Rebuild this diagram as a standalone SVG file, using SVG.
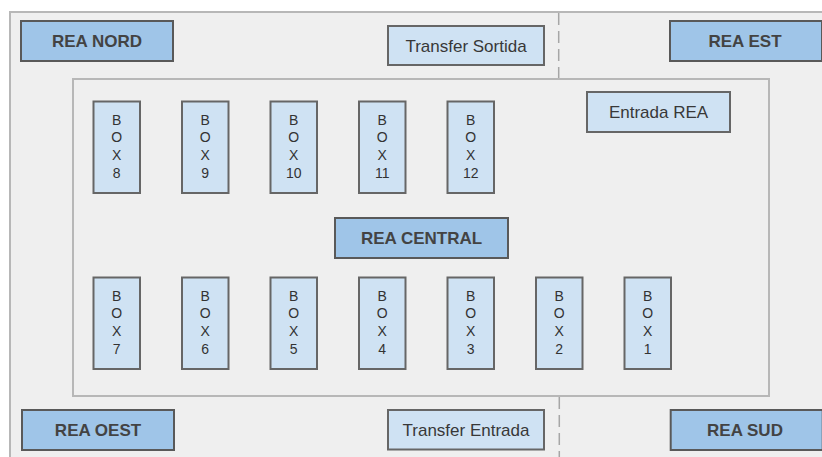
<svg xmlns="http://www.w3.org/2000/svg" width="822" height="457" viewBox="0 0 822 457">
  <style>
    .frame { fill: #efefef; stroke: #b7b7b7; stroke-width: 2; }
    .hall { fill: none; stroke: #b7b7b7; stroke-width: 2; }
    .divider { fill: none; stroke: #a6a6a6; stroke-width: 1.5; stroke-dasharray: 12 6; }
    .zone { fill: #9fc5e8; stroke: #595959; stroke-width: 2; }
    .room { fill: #cfe2f3; stroke: #666666; stroke-width: 2; }
    .zone-label { font-family: "Liberation Sans", Arial, sans-serif; font-size: 17px; font-weight: bold; fill: #434343; text-anchor: middle; }
    .room-label { font-family: "Liberation Sans", Arial, sans-serif; font-size: 17px; fill: #383838; text-anchor: middle; }
    .box-label { font-family: "Liberation Sans", Arial, sans-serif; font-size: 14px; fill: #333333; text-anchor: middle; }
  </style>

  <rect x="0" y="0" width="822" height="457" fill="#ffffff"/>
  <!-- outer floor area, running off the right and bottom edges -->
  <rect class="frame" x="10" y="12" width="830" height="460"/>
  <!-- central hall -->
  <rect class="hall" x="73" y="79" width="696" height="317"/>

  <g id="connectors">
    <line class="divider" x1="558.7" y1="13" x2="558.7" y2="78"/>
    <line class="divider" x1="559.3" y1="397" x2="559.3" y2="457"/>
  </g>

  <g id="rea-nord">
    <rect class="zone" x="21" y="21" width="152" height="40"/>
    <text class="zone-label" x="97" y="47">REA NORD</text>
  </g>
  <g id="transfer-sortida">
    <rect class="room" x="388" y="26" width="156" height="39"/>
    <text class="room-label" x="466" y="51.5">Transfer Sortida</text>
  </g>
  <g id="rea-est">
    <rect class="zone" x="670" y="21" width="152" height="40"/>
    <text class="zone-label" x="745" y="47">REA EST</text>
  </g>
  <g id="entrada-rea">
    <rect class="room" x="587" y="92" width="143" height="40"/>
    <text class="room-label" x="658.5" y="118">Entrada REA</text>
  </g>
  <g id="rea-central">
    <rect class="zone" x="335" y="218" width="173" height="40"/>
    <text class="zone-label" x="421.5" y="244">REA CENTRAL</text>
  </g>
  <g id="rea-oest">
    <rect class="zone" x="22" y="410" width="152" height="40"/>
    <text class="zone-label" x="98" y="436">REA OEST</text>
  </g>
  <g id="transfer-entrada">
    <rect class="room" x="388" y="410" width="156" height="39.5"/>
    <text class="room-label" x="466" y="436">Transfer Entrada</text>
  </g>
  <g id="rea-sud">
    <rect class="zone" x="670.7" y="410" width="152" height="40"/>
    <text class="zone-label" x="745" y="436">REA SUD</text>
  </g>

  <!-- upper row of boxes -->
  <g id="box-8">
    <rect class="room" x="93.5" y="101.5" width="46.5" height="91.5"/>
    <text class="box-label" x="116.75" y="124.5">B</text>
    <text class="box-label" x="116.75" y="142.3">O</text>
    <text class="box-label" x="116.75" y="160">X</text>
    <text class="box-label" x="116.75" y="177.8">8</text>
  </g>
  <g id="box-9">
    <rect class="room" x="182" y="101.5" width="46.5" height="91.5"/>
    <text class="box-label" x="205.25" y="124.5">B</text>
    <text class="box-label" x="205.25" y="142.3">O</text>
    <text class="box-label" x="205.25" y="160">X</text>
    <text class="box-label" x="205.25" y="177.8">9</text>
  </g>
  <g id="box-10">
    <rect class="room" x="270.5" y="101.5" width="46.5" height="91.5"/>
    <text class="box-label" x="293.75" y="124.5">B</text>
    <text class="box-label" x="293.75" y="142.3">O</text>
    <text class="box-label" x="293.75" y="160">X</text>
    <text class="box-label" x="293.75" y="177.8">10</text>
  </g>
  <g id="box-11">
    <rect class="room" x="359" y="101.5" width="46.5" height="91.5"/>
    <text class="box-label" x="382.25" y="124.5">B</text>
    <text class="box-label" x="382.25" y="142.3">O</text>
    <text class="box-label" x="382.25" y="160">X</text>
    <text class="box-label" x="382.25" y="177.8">11</text>
  </g>
  <g id="box-12">
    <rect class="room" x="447.5" y="101.5" width="46.5" height="91.5"/>
    <text class="box-label" x="470.75" y="124.5">B</text>
    <text class="box-label" x="470.75" y="142.3">O</text>
    <text class="box-label" x="470.75" y="160">X</text>
    <text class="box-label" x="470.75" y="177.8">12</text>
  </g>

  <!-- lower row of boxes -->
  <g id="box-7">
    <rect class="room" x="93.5" y="277.5" width="46.5" height="91.5"/>
    <text class="box-label" x="116.75" y="300.7">B</text>
    <text class="box-label" x="116.75" y="318.4">O</text>
    <text class="box-label" x="116.75" y="336.1">X</text>
    <text class="box-label" x="116.75" y="353.8">7</text>
  </g>
  <g id="box-6">
    <rect class="room" x="182" y="277.5" width="46.5" height="91.5"/>
    <text class="box-label" x="205.25" y="300.7">B</text>
    <text class="box-label" x="205.25" y="318.4">O</text>
    <text class="box-label" x="205.25" y="336.1">X</text>
    <text class="box-label" x="205.25" y="353.8">6</text>
  </g>
  <g id="box-5">
    <rect class="room" x="270.5" y="277.5" width="46.5" height="91.5"/>
    <text class="box-label" x="293.75" y="300.7">B</text>
    <text class="box-label" x="293.75" y="318.4">O</text>
    <text class="box-label" x="293.75" y="336.1">X</text>
    <text class="box-label" x="293.75" y="353.8">5</text>
  </g>
  <g id="box-4">
    <rect class="room" x="359" y="277.5" width="46.5" height="91.5"/>
    <text class="box-label" x="382.25" y="300.7">B</text>
    <text class="box-label" x="382.25" y="318.4">O</text>
    <text class="box-label" x="382.25" y="336.1">X</text>
    <text class="box-label" x="382.25" y="353.8">4</text>
  </g>
  <g id="box-3">
    <rect class="room" x="447.5" y="277.5" width="46.5" height="91.5"/>
    <text class="box-label" x="470.75" y="300.7">B</text>
    <text class="box-label" x="470.75" y="318.4">O</text>
    <text class="box-label" x="470.75" y="336.1">X</text>
    <text class="box-label" x="470.75" y="353.8">3</text>
  </g>
  <g id="box-2">
    <rect class="room" x="536" y="277.5" width="46.5" height="91.5"/>
    <text class="box-label" x="559.25" y="300.7">B</text>
    <text class="box-label" x="559.25" y="318.4">O</text>
    <text class="box-label" x="559.25" y="336.1">X</text>
    <text class="box-label" x="559.25" y="353.8">2</text>
  </g>
  <g id="box-1">
    <rect class="room" x="624.5" y="277.5" width="46.5" height="91.5"/>
    <text class="box-label" x="647.75" y="300.7">B</text>
    <text class="box-label" x="647.75" y="318.4">O</text>
    <text class="box-label" x="647.75" y="336.1">X</text>
    <text class="box-label" x="647.75" y="353.8">1</text>
  </g>
</svg>
